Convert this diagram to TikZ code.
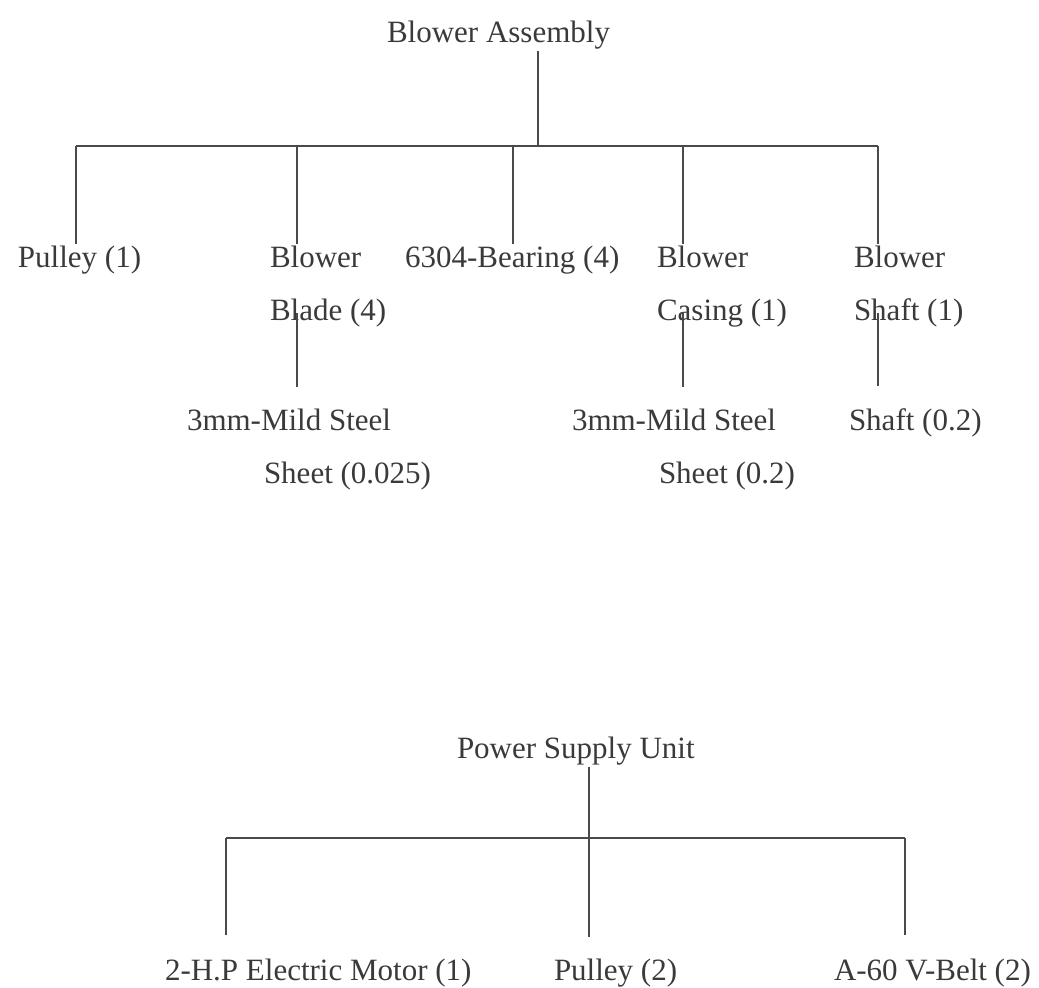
\documentclass[tikz,border=0pt]{standalone}
\usepackage{fontspec}
\setmainfont{Liberation Serif}
\usepackage{tikz}
\usetikzlibrary{positioning}

\definecolor{ink}{HTML}{3A3A3A}
\definecolor{wire}{HTML}{4A4A4A}

\begin{document}
\begin{tikzpicture}[
  x=0.5pt, y=-0.5pt,
  partbox/.style={inner sep=0pt, outer sep=1pt, anchor=base west,
                  text=ink, font=\fontsize{15.5}{18}\selectfont},
  link/.style={draw=wire, line width=0.8pt}
]

\fill[white] (0,0) rectangle (1039,987);
\useasboundingbox (0,0) rectangle (1039,987);

% blower assembly
\node[partbox] (asm)  at (385,42)  {Blower Assembly};
\node[partbox] (pul1) at (16,267)  {Pulley (1)};
\node[partbox] (bld)  at (268,267) {Blower};
\node[partbox] (bld2) at (268,320) {Blade (4)};
\node[partbox] (brg)  at (403,267) {6304-Bearing (4)};
\node[partbox] (cas)  at (655,267) {Blower};
\node[partbox] (cas2) at (655,320) {Casing (1)};
\node[partbox] (shf)  at (852,267) {Blower};
\node[partbox] (shf2) at (852,320) {Shaft (1)};
\node[partbox] (ms1)  at (185,430) {3mm-Mild Steel};
\node[partbox] (ms1b) at (262,483) {Sheet (0.025)};
\node[partbox] (ms2)  at (570,430) {3mm-Mild Steel};
\node[partbox] (ms2b) at (657,483) {Sheet (0.2)};
\node[partbox] (rod)  at (847,430) {Shaft (0.2)};

\coordinate (hub1) at (538,146);
\coordinate (b1) at (76,146);
\coordinate (b2) at (297,146);
\coordinate (b3) at (513,146);
\coordinate (b4) at (683,146);
\coordinate (b5) at (878,146);

\draw[link] (hub1 |- asm.south) -- (hub1);
\draw[link] (b1) -- (b5);
\draw[link] (b1) -- (b1 |- pul1.north);
\draw[link] (b2) -- (b2 |- bld.north);
\draw[link] (b3) -- (b3 |- brg.north);
\draw[link] (b4) -- (b4 |- cas.north);
\draw[link] (b5) -- (b5 |- shf.north);
\draw[link] ([yshift=3.5pt]b2 |- bld2.base) -- ([yshift=10pt]b2 |- ms1.north);
\draw[link] ([yshift=3.5pt]b4 |- cas2.base) -- ([yshift=10pt]b4 |- ms2.north);
\draw[link] ([yshift=3.5pt]b5 |- shf2.base) -- ([yshift=10pt]b5 |- rod.north);

% power supply unit
\node[partbox] (psu)  at (455,758) {Power Supply Unit};
\node[partbox] (mot)  at (163,980) {2-H.P Electric Motor (1)};
\node[partbox] (pul2) at (552,980) {Pulley (2)};
\node[partbox] (belt) at (832,980) {A-60 V-Belt (2)};

\coordinate (hub2) at (589,838);
\coordinate (c1) at (226,838);
\coordinate (c3) at (905,838);

\draw[link] (c1) -- (c3);
\draw[link] (hub2 |- psu.south) -- ([yshift=10pt]hub2 |- pul2.north);
\draw[link] (c1) -- ([yshift=11pt]c1 |- mot.north);
\draw[link] (c3) -- ([yshift=11pt]c3 |- belt.north);

\end{tikzpicture}
\end{document}
